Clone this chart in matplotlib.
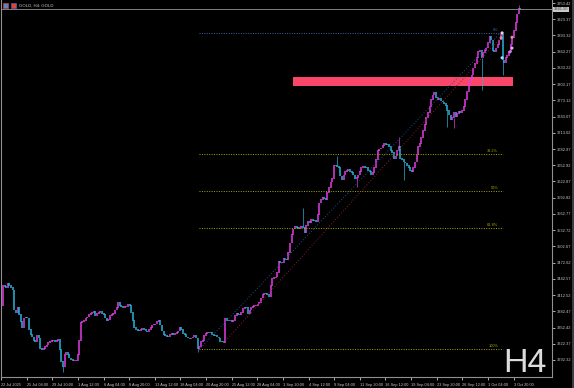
import numpy as np
import matplotlib.pyplot as plt
from matplotlib.patches import Rectangle

plt.rcParams["font.family"] = ["Liberation Sans", "DejaVu Sans"]

# H4 closes (GOLD, 22 Jul -> 6 Oct 2025)
first_open = 3394
closes = [
    3431, 3428, 3426, 3435, 3431, 3426, 3422, 3385, 3381, 3389,
    3376, 3363, 3353, 3370, 3372, 3370, 3348, 3339, 3335, 3329,
    3326, 3337, 3333, 3314, 3311, 3314, 3318, 3320, 3324, 3326,
    3329, 3329, 3327, 3329, 3331, 3311, 3289, 3281, 3303, 3307,
    3302, 3296, 3294, 3292, 3292, 3292, 3302, 3329, 3361, 3363,
    3366, 3370, 3372, 3376, 3379, 3381, 3382, 3374, 3379, 3381,
    3382, 3379, 3376, 3370, 3366, 3368, 3374, 3376, 3378, 3385,
    3389, 3398, 3394, 3392, 3390, 3391, 3392, 3396, 3394, 3381,
    3366, 3353, 3348, 3347, 3346, 3348, 3350, 3348, 3346, 3345,
    3348, 3352, 3357, 3358, 3359, 3363, 3366, 3357, 3346, 3339,
    3337, 3336, 3335, 3339, 3342, 3340, 3341, 3344, 3346, 3352,
    3348, 3342, 3339, 3335, 3333, 3332, 3333, 3335, 3337, 3333,
    3314, 3318, 3326, 3329, 3337, 3342, 3344, 3343, 3344, 3339,
    3338, 3337, 3335, 3333, 3327, 3326, 3324, 3370, 3366, 3365,
    3366, 3363, 3366, 3374, 3378, 3377, 3376, 3381, 3387, 3390,
    3389, 3379, 3385, 3390, 3392, 3393, 3394, 3396, 3398, 3407,
    3413, 3416, 3415, 3413, 3409, 3431, 3444, 3445, 3446, 3455,
    3474, 3472, 3473, 3481, 3479, 3478, 3492, 3509, 3524, 3535,
    3539, 3537, 3536, 3538, 3540, 3537, 3529, 3542, 3548, 3547,
    3552, 3551, 3550, 3548, 3561, 3583, 3589, 3594, 3592, 3589,
    3603, 3611, 3622, 3629, 3652, 3653, 3650, 3648, 3633, 3626,
    3635, 3641, 3644, 3645, 3642, 3640, 3635, 3629, 3631, 3635,
    3641, 3648, 3650, 3649, 3648, 3644, 3641, 3635, 3640, 3648,
    3663, 3681, 3683, 3685, 3689, 3694, 3692, 3691, 3687, 3681,
    3676, 3666, 3670, 3681, 3687, 3666, 3663, 3659, 3657, 3652,
    3648, 3644, 3641, 3648, 3659, 3672, 3687, 3694, 3705, 3718,
    3728, 3741, 3750, 3761, 3774, 3783, 3787, 3778, 3774, 3777,
    3772, 3770, 3768, 3763, 3755, 3746, 3737, 3741, 3750, 3744,
    3748, 3752, 3750, 3755, 3761, 3774, 3789, 3802, 3811, 3820,
    3833, 3842, 3852, 3863, 3866, 3852, 3861, 3866, 3870, 3881,
    3892, 3885, 3866, 3863, 3870, 3876, 3885, 3896, 3848, 3844,
    3852, 3857, 3863, 3876, 3890, 3903, 3918, 3933, 3944, 3941,
]
# the wicks that stand out in the picture (bar index -> price)
wick_highs = {185: 3574, 206: 3671, 244: 3705, 318: 3950}
wick_lows = {37: 3270, 120: 3307, 218: 3613, 247: 3626, 274: 3724,
             278: 3722, 295: 3792, 308: 3820}

price_ticks = [3953.42, 3923.37, 3893.32, 3863.27, 3833.22, 3803.17, 3773.12,
               3743.07, 3713.02, 3682.97, 3652.92, 3622.87, 3592.82, 3562.77,
               3532.72, 3502.67, 3472.62, 3442.57, 3412.52, 3382.47, 3352.42,
               3322.37, 3292.32]
time_labels = ["22 Jul 2025", "25 Jul 04:00", "29 Jul 20:00", "1 Aug 12:00",
               "6 Aug 04:00", "8 Aug 20:00", "13 Aug 12:00", "18 Aug 04:00",
               "20 Aug 20:00", "25 Aug 12:00", "28 Aug 04:00", "1 Sep 20:00",
               "4 Sep 12:00", "9 Sep 04:00", "11 Sep 20:00", "16 Sep 12:00",
               "19 Sep 04:00", "23 Sep 20:00", "26 Sep 12:00", "1 Oct 04:00",
               "3 Oct 20:00"]

fib_low, fib_high = 3312.6, 3897.9
fib_levels = [0.0, 0.382, 0.5, 0.618, 1.0]
fib_names = ["0%", "38.2%", "50%", "61.8%", "100%"]
zone = (3799.7, 3816.4)
bid = 3941.5

BULL = "#e23ee6"
BEAR = "#2ab4dc"
FIB = "#a8a800"
YMIN, YMAX = 3260.8, 3959.0

fig = plt.figure(figsize=(5.74, 3.88), dpi=100, facecolor="black")
ax = fig.add_axes([1 / 574, 11 / 388, 551 / 574, 377 / 388], facecolor="black")

n = len(closes)
idx = np.arange(n)
opens = np.array([first_open] + closes[:-1], dtype=float)
cl = np.array(closes, dtype=float)
cols = [BULL if c >= o else BEAR for o, c in zip(opens, cl)]

# wicks first, then bodies
for i, h in wick_highs.items():
    ax.vlines(i, max(opens[i], cl[i]), h, color=cols[i], lw=0.6, alpha=0.8)
for i, l in wick_lows.items():
    ax.vlines(i, l, min(opens[i], cl[i]), color=cols[i], lw=0.6, alpha=0.8)
ax.vlines(idx, np.minimum(opens, cl) - 0.8, np.maximum(opens, cl) + 0.8,
          colors=cols, lw=1.1)

# fibonacci retracement
f0, f1 = 120.6, 308.3
for lev, name in zip(fib_levels, fib_names):
    p = fib_high - lev * (fib_high - fib_low)
    c = "#3a66a0" if lev == 0 else FIB
    ax.hlines(p, f0, f1, colors=c, lw=0.7, linestyles=(0, (1, 1.5)))
    ax.text(f1 - 3, p + 2, name, color=c, fontsize=2.8, ha="right", va="bottom")
ax.plot([120.6, 306.5], [3310.8, 3897.9], color="#1f4f86", lw=0.7,
        ls=(0, (1, 2)))
ax.plot([136.0, 306.5], [3323.8, 3888.6], color="#8a1c2c", lw=0.7,
        ls=(0, (1, 2)))

ax.add_patch(Rectangle((178.5, zone[0]), 136.0, zone[1] - zone[0],
                       color="#fa4669", lw=0))

# small markers near the top
mx = [307.7, 307.1, 313.8, 313.8, 312.6, 307.7]
my = [3898, 3889, 3890, 3870, 3863, 3852]
mc = ["#f4d0dc", "#f08a8a", "#e8909a", "#d8b0f4", "#c284e4", "#a8dcf4"]
ax.scatter(mx, my, s=5, c=mc, edgecolors="none", zorder=5)

ax.axhline(bid, color="#808080", lw=0.7)

ax.set_xlim(-1.23, 338.46)
ax.set_ylim(YMIN, YMAX)

ax.yaxis.tick_right()
ax.set_yticks(price_ticks)
ax.set_yticklabels([f"{v:.2f}" for v in price_ticks])
ax.tick_params(axis="y", length=2.5, width=0.6, pad=0.8, labelsize=2.9,
               colors="#c8c8c8")
ax.set_xticks(np.arange(len(time_labels)) * 15.8 - 1.2)
ax.set_xticklabels(time_labels, ha="left")
ax.tick_params(axis="x", length=2.5, width=0.6, pad=1.5, labelsize=2.8,
               colors="#c8c8c8")
for lab in ax.get_xticklabels():
    lab.set_x(lab.get_position()[0])
for s in ["left", "right", "bottom"]:
    ax.spines[s].set_color("#909090")
    ax.spines[s].set_linewidth(0.8)
ax.spines["top"].set_visible(False)

ax.text(1.004, (bid - YMIN) / (YMAX - YMIN), f"{bid:.2f}",
        transform=ax.transAxes, fontsize=2.9, color="#404040", va="center",
        ha="left", bbox=dict(boxstyle="square,pad=0.2", fc="#c8c8c8",
                             ec="none"))

fig.text(503 / 574, 1 - 372 / 388, "H4", fontsize=24.5, color="#dcdcdc",
         ha="left", va="baseline")
fig.text(19 / 574, 1 - 6.5 / 388, "GOLD, H4: GOLD", fontsize=3.1,
         color="#c8c8c8", ha="left", va="baseline")
fig.patches.append(Rectangle((3 / 574, 1 - 8 / 388), 5 / 574, 5 / 388,
                             transform=fig.transFigure, fc="#6080c0",
                             ec="#e04040", lw=0.4))
fig.patches.append(Rectangle((11 / 574, 1 - 8 / 388), 5 / 574, 5 / 388,
                             transform=fig.transFigure, fc="#e04040",
                             ec="#4070d0", lw=0.4))
fig.patches.append(Rectangle((572 / 574, 0), 2 / 574, 1,
                             transform=fig.transFigure, fc="#3a3f46",
                             ec="none"))

fig.savefig("out.png", dpi=100, facecolor="black")
